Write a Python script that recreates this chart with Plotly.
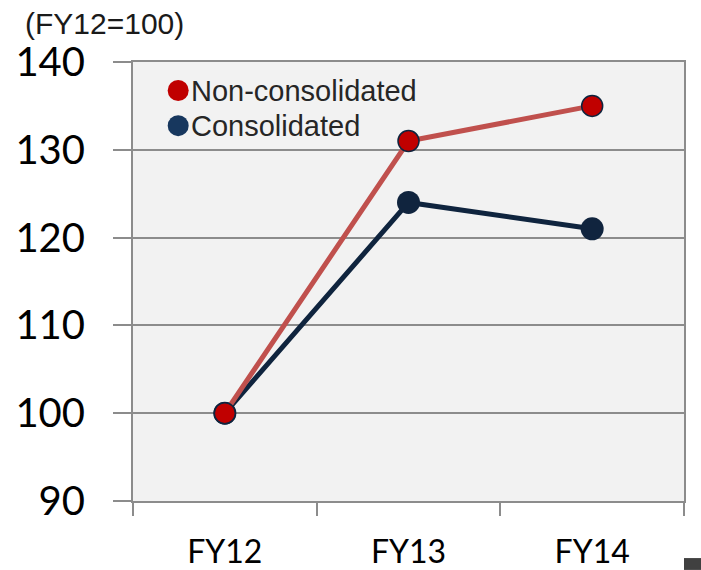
import plotly.graph_objects as go

# Index values (FY12 = 100)
categories = ["FY12", "FY13", "FY14"]
non_consolidated = [100, 131, 135]
consolidated = [100, 124, 121]
y_ticks = [90, 100, 110, 120, 130, 140]
series_names = ["Non-consolidated", "Consolidated"]

GRID = "#8c8c8c"
RED_LINE = "#c0504d"
RED_MARK = "#c00000"
NAVY_LINE = "#0f243e"
NAVY_MARK = "#10243e"
NAVY_LEGEND = "#17375e"
legend_colors = [RED_MARK, NAVY_LEGEND]

fig = go.Figure()

# Consolidated drawn first so the non-consolidated series sits on top at FY12
fig.add_trace(go.Scatter(
    x=categories, y=consolidated, mode="lines+markers", name=series_names[1],
    showlegend=False,
    line=dict(color=NAVY_LINE, width=5),
    marker=dict(color=NAVY_MARK, size=23, line=dict(width=0)),
))
fig.add_trace(go.Scatter(
    x=categories, y=non_consolidated, mode="lines+markers", name=series_names[0],
    showlegend=False,
    line=dict(color=RED_LINE, width=5),
    marker=dict(color=RED_MARK, size=21, line=dict(color=NAVY_LINE, width=1.5)),
))

# Legend: round swatch followed directly by the series name
shapes = []
annotations = []
lx, ly0, dy = 0.082, 0.935, 0.08   # paper coordinates (plot area)
r_x, r_y = 10.5 / 551, 10.5 / 439
for i, (name, col) in enumerate(zip(series_names, legend_colors)):
    cy = ly0 - i * dy
    shapes.append(dict(
        type="circle", xref="paper", yref="paper",
        x0=lx - r_x, x1=lx + r_x, y0=cy - r_y, y1=cy + r_y,
        fillcolor=col, line=dict(width=0), layer="above",
    ))
    annotations.append(dict(
        text=name, xref="paper", yref="paper", x=lx + r_x, y=cy,
        xanchor="left", yanchor="middle", xshift=0, showarrow=False,
        font=dict(family="Liberation Sans, Arial, sans-serif", size=29, color="#262626"),
    ))

annotations.append(dict(
    text="(FY12=100)", xref="paper", yref="paper",
    x=-0.199, y=1.0, xanchor="left", yanchor="bottom", yshift=20,
    showarrow=False,
    font=dict(family="Liberation Sans, Arial, sans-serif", size=30, color="#1a1a1a"),
))
shapes.append(dict(
    type="rect", xref="paper", yref="paper",
    x0=1.0, x1=1.04, y0=-0.157, y1=-0.13,
    fillcolor="#404040", line=dict(width=0), layer="above",
))

fig.update_layout(
    width=701, height=570,
    margin=dict(l=133, r=17, t=62, b=69, autoexpand=False),
    paper_bgcolor="white",
    plot_bgcolor="#f2f2f2",
    showlegend=False,
    annotations=annotations,
    shapes=shapes,
)

fig.update_xaxes(
    type="category", categoryorder="array", categoryarray=categories,
    range=[-0.5, 2.5], automargin=False,
    tickson="boundaries", ticks="outside", ticklen=13, tickwidth=2, tickcolor=GRID,
    showgrid=False, showline=True, linecolor=GRID, linewidth=2, mirror=True,
    tickfont=dict(family="Lato, sans-serif", size=32, color="black"),
    ticklabelstandoff=22,
    zeroline=False,
)
fig.update_yaxes(
    range=[90, 140], tickvals=y_ticks, automargin=False,
    ticks="outside", ticklen=18, tickwidth=2, tickcolor=GRID,
    showgrid=True, gridcolor=GRID, gridwidth=2,
    showline=True, linecolor=GRID, linewidth=2, mirror=True,
    tickfont=dict(family="Lato, sans-serif", size=40, color="black"),
    ticklabelstandoff=20,
    zeroline=False,
)

fig.write_html("out.html")
